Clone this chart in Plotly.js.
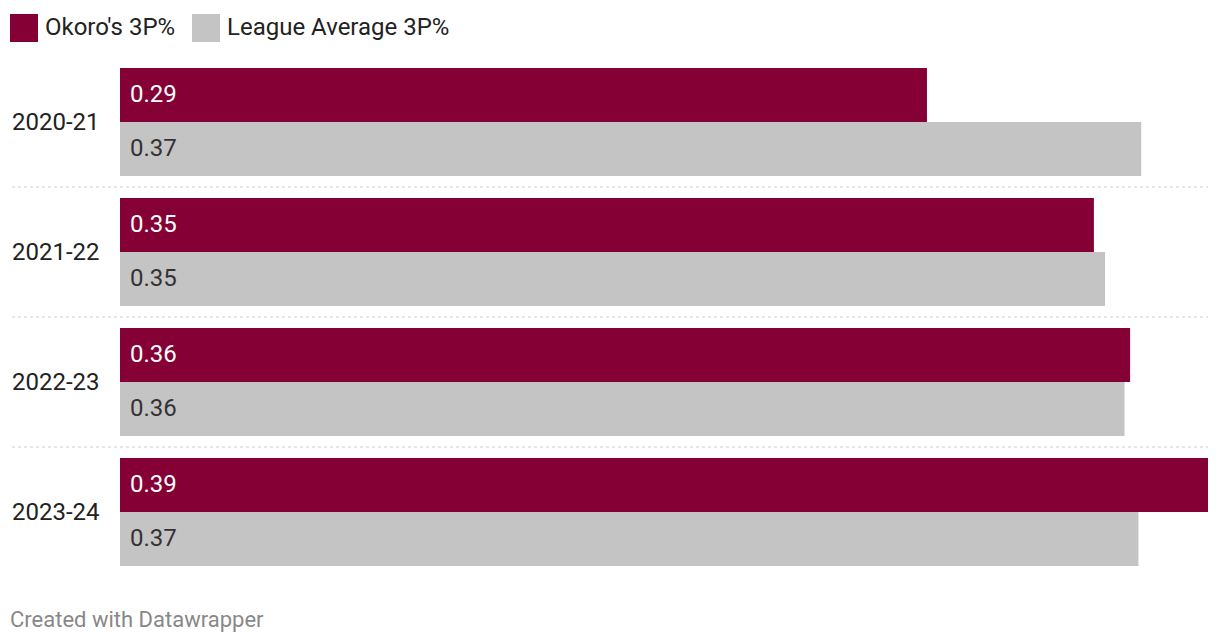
<!DOCTYPE html>
<html>
<head>
<meta charset="utf-8">
<script src="https://cdn.plot.ly/plotly-3.0.1.min.js"></script>
<style>
html,body{margin:0;padding:0;background:#fff;}
#chart{width:1220px;height:644px;}
</style>
</head>
<body>
<div id="chart"></div>
<script>
const seasons = ["2020-21", "2021-22", "2022-23", "2023-24"];
const okoroPct = [0.290, 0.350, 0.363, 0.391];
const leaguePct = [0.367, 0.354, 0.361, 0.366];
const seriesNames = ["Okoro's 3P%", "League Average 3P%"];
const colors = ["#850034", "#c4c4c4"];
const labelColors = ["#ffffff", "#333333"];

const FONT = "Roboto, 'Noto Sans', sans-serif";
const FS = 24;

const traces = [
  {
    type: "bar", orientation: "h", name: seriesNames[0],
    y: seasons, x: okoroPct, marker: {color: colors[0]},
    hoverinfo: "skip"
  },
  {
    type: "bar", orientation: "h", name: seriesNames[1],
    y: seasons, x: leaguePct, marker: {color: colors[1]},
    hoverinfo: "skip"
  }
];

const plotL = 120, plotR = 1208, W = 1220;
const domW = plotR - plotL;
const plotT = 57, plotB = 577, domH = plotB - plotT;

const shapes = [];
const annotations = [];
// separators between groups
for (let i = 0; i < seasons.length - 1; i++) {
  shapes.push({
    type: "line", xref: "paper", yref: "y",
    x0: (12 - plotL) / domW, x1: 1,
    y0: i + 0.5, y1: i + 0.5,
    line: {color: "#cfcfcf", width: 1, dash: "dot"}
  });
}
// category labels
seasons.forEach((s, i) => {
  annotations.push({
    xref: "paper", yref: "y", x: (10 - plotL) / domW, y: s,
    xanchor: "left", yanchor: "middle", showarrow: false,
    text: s, font: {family: FONT, size: FS, color: "#222222"}
  });
});
// value labels inside bars
[okoroPct, leaguePct].forEach((arr, k) => {
  arr.forEach((v, i) => {
    annotations.push({
      xref: "x", yref: "y", x: 0, y: seasons[i],
      xanchor: "left", yanchor: "middle", showarrow: false,
      xshift: 8, yshift: k === 0 ? 28 : -26,
      text: v.toFixed(2), font: {family: FONT, size: FS, color: labelColors[k]}
    });
  });
});
// legend (custom)
const legX = [10, 192];
seriesNames.forEach((n, i) => {
  shapes.push({
    type: "rect", xref: "paper", yref: "paper",
    x0: (legX[i] - plotL) / domW, x1: (legX[i] + 28 - plotL) / domW,
    y0: 1 + (plotT - 42) / domH, y1: 1 + (plotT - 14) / domH,
    fillcolor: colors[i], line: {width: 0}
  });
  annotations.push({
    xref: "paper", yref: "paper",
    x: (legX[i] + 33 - plotL) / domW, y: 1 + (plotT - 27) / domH,
    xanchor: "left", yanchor: "middle", showarrow: false,
    text: n, font: {family: FONT, size: FS, color: "#222222"}
  });
});
// footer
annotations.push({
  xref: "paper", yref: "paper",
  x: (8 - plotL) / domW, y: -(619 - plotB) / domH,
  xanchor: "left", yanchor: "middle", showarrow: false,
  text: "Created with Datawrapper", font: {family: FONT, size: 22, color: "#888888"}
});

const layout = {
  width: 1220, height: 644,
  margin: {l: plotL, r: W - plotR, t: plotT, b: 644 - plotB, pad: 0},
  paper_bgcolor: "#ffffff", plot_bgcolor: "#ffffff",
  showlegend: false,
  barmode: "group", bargap: 22 / 130, bargroupgap: 0,
  xaxis: {range: [0, 0.391], visible: false, fixedrange: true},
  yaxis: {
    type: "category", autorange: false, range: [3.5, -0.5],
    showticklabels: false, showgrid: false, zeroline: false, ticks: "",
    fixedrange: true
  },
  font: {family: FONT},
  shapes: shapes,
  annotations: annotations
};

Plotly.newPlot("chart", traces, layout, {displayModeBar: false, staticPlot: true});
</script>
</body>
</html>
